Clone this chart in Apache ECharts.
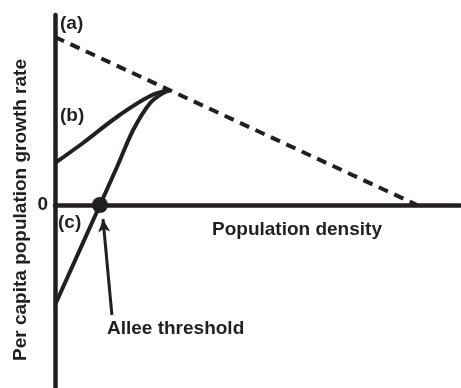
<!DOCTYPE html>
<html>
<head>
<meta charset="utf-8">
<script src="https://cdn.jsdelivr.net/npm/echarts@6/dist/echarts.min.js"></script>
<style>html,body{margin:0;padding:0;background:#fff}#c{width:461px;height:388px}</style>
</head>
<body>
<div id="c"></div>
<script>
// Curve (a): logistic, linear decline
const curveA = [[0, 1.68], [89.4, 0]];
// Curve (b): weak Allee effect
const curveB = [[0, 0.42], [6.9, 0.62], [15.3, 0.88], [23.5, 1.09], [28.4, 1.15]];
// Curve (c): strong Allee effect
const curveC = [[0, -1.0], [11.1, 0], [15.3, 0.38], [19.3, 0.75], [23.5, 1.02], [26.7, 1.12], [28.4, 1.15]];
const alleePoint = [[11.1, 0]];
const arrowFrom = [14.05, -1.1];
const arrowTo = [11.85, -0.14];
const yTicks = [0];

const ink = '#231f20';
const font = 'Liberation Sans, Arial, Helvetica, sans-serif';
const chart = echarts.init(document.getElementById('c'));
const txt = (text, x, y, extra) => Object.assign({
  type: 'text', x: x, y: y,
  style: { text: text, fill: ink, font: 'bold 19px ' + font, textAlign: 'left', textVerticalAlign: 'middle' }
}, extra || {});
chart.setOption({
  animation: false,
  grid: { left: 55, right: 1, top: 15, bottom: 0 },
  xAxis: {
    type: 'value', min: 0, max: 100,
    axisLine: { show: true, onZero: true, lineStyle: { color: ink, width: 4.5 } },
    axisTick: { show: false }, axisLabel: { show: false }, splitLine: { show: false }
  },
  yAxis: {
    type: 'value', min: -1.83, max: 1.90,
    axisLine: { show: true, lineStyle: { color: ink, width: 4.5 } },
    axisTick: { show: false }, splitLine: { show: false },
    axisLabel: { show: true, customValues: yTicks, color: ink, fontWeight: 'bold', fontSize: 19, fontFamily: font, margin: 7 }
  },
  series: [
    { type: 'line', data: curveA, symbol: 'none', lineStyle: { color: ink, width: 4, type: [10, 7] } },
    { type: 'line', data: curveB, symbol: 'none', smooth: 0.4, lineStyle: { color: ink, width: 4 } },
    { type: 'line', data: curveC, symbol: 'none', smooth: 0.3, lineStyle: { color: ink, width: 4 } },
    {
      type: 'scatter', data: alleePoint, symbol: 'circle', symbolSize: 16, itemStyle: { color: ink, opacity: 1 },
      z: 5,
      markLine: {
        silent: true, symbol: ['none', 'arrow'], symbolSize: [9, 13],
        lineStyle: { color: ink, width: 3, type: 'solid', opacity: 1 }, label: { show: false },
        data: [[{ coord: arrowFrom }, { coord: arrowTo }]]
      }
    }
  ],
  graphic: [
    txt('(a)', 60, 24),
    txt('(b)', 60, 116),
    txt('(c)', 58, 223),
    txt('Population density', 212, 230),
    txt('Allee threshold', 107, 329),
    txt('Per capita population growth rate', 21, 210, { rotation: Math.PI / 2, style: { text: 'Per capita population growth rate', fill: ink, font: 'bold 19px ' + font, textAlign: 'center', textVerticalAlign: 'middle' } })
  ]
});
</script>
</body>
</html>
